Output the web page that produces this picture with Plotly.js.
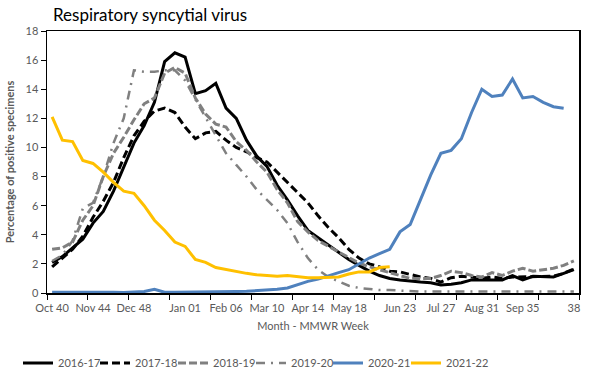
<!DOCTYPE html>
<html>
<head>
<meta charset="utf-8">
<script src="https://cdn.plot.ly/plotly-3.0.1.min.js"></script>
<style>html,body{margin:0;padding:0;background:#fff;}#chart{width:606px;height:380px;}</style>
</head>
<body>
<div id="chart"></div>
<script>
// Week index 0..51 (MMWR week 40 through week 39 of next year)
const weekIndex = Array.from({length: 52}, (_, i) => i);

const tickPositions = [0, 4, 8, 13, 17, 21, 25, 29, 34, 38, 42, 46, 51];
const tickLabels = ["Oct 40", "Nov 44", "Dec 48", "Jan 01", "Feb 06", "Mar 10", "Apr 14", "May 18", "Jun 23", "Jul 27", "Aug 31", "Sep 35", "38"];
const tickBoundaries = [-0.5, 3.5, 7.5, 11.5, 15.5, 19.5, 23.5, 27.5, 31.5, 35.5, 39.5, 43.5, 47.5, 51.5];

const s2016_17 = [2.1, 2.5, 3.1, 3.7, 4.8, 5.6, 7.0, 8.7, 10.3, 11.5, 13.1, 15.9, 16.5, 16.2, 13.7, 13.9, 14.4, 12.7, 12.0, 10.5,
  9.4, 8.7, 7.4, 6.4, 5.3, 4.3, 3.8, 3.3, 2.8, 2.3, 1.9, 1.5, 1.2, 1.0, 0.9, 0.8, 0.75, 0.7, 0.55, 0.6,
  0.7, 0.9, 0.9, 0.9, 0.9, 1.2, 0.9, 1.15, 1.1, 1.1, 1.35, 1.6];

const s2017_18 = [1.8, 2.4, 3.0, 3.9, 5.2, 6.3, 7.6, 9.3, 10.8, 11.8, 12.5, 12.7, 12.4, 11.4, 10.6, 11.0, 11.1, 10.5, 10.0, 9.7,
  9.3, 9.0, 8.3, 7.6, 6.9, 6.2, 5.3, 4.5, 3.8, 3.0, 2.4, 2.0, 1.8, 1.5, 1.45, 1.25, 1.1, 1.0, 0.75, 1.05,
  1.15, 1.1, 1.0, 1.1, 1.0, 1.1, 1.1, 1.1, 1.1, 1.15, 1.35, 1.65];

const s2018_19 = [3.0, 3.1, 3.5, 5.0, 6.0, 8.0, 9.6, 10.7, 11.9, 13.0, 13.4, 15.1, 15.5, 15.1, 13.4, 12.3, 11.6, 11.4, 10.4, 9.8,
  9.0, 8.3, 7.1, 6.2, 4.9, 4.2, 3.6, 3.2, 2.8, 2.4, 2.05, 1.8, 1.6, 1.4, 1.2, 1.0, 1.0, 1.0, 1.2, 1.5,
  1.4, 1.2, 1.1, 1.4, 1.2, 1.5, 1.7, 1.5, 1.6, 1.7, 1.9, 2.2];

const s2019_20 = [2.2, 2.6, 3.6, 5.8, 6.2, 8.0, 10.3, 12.0, 15.3, 15.2, 15.2, 15.3, 15.3, 14.6, 13.3, 12.1, 10.9, 9.6, 8.8, 8.0,
  7.1, 6.4, 5.7, 4.8, 3.5, 2.4, 1.6, 1.1, 0.8, 0.5, 0.35, 0.25, 0.2, 0.2, 0.15, 0.15, 0.1, 0.1, 0.1, 0.1,
  0.1, 0.1, 0.1, 0.1, 0.1, 0.1, 0.1, 0.1, 0.1, 0.1, 0.1, 0.1];

const s2020_21 = [0.05, 0.05, 0.05, 0.05, 0.1, 0.05, 0.05, 0.03, 0.05, 0.1, 0.25, 0.05, 0.05, 0.05, 0.05, 0.08, 0.1, 0.1, 0.1, 0.12,
  0.15, 0.2, 0.25, 0.35, 0.6, 0.8, 0.95, 1.2, 1.4, 1.6, 2.0, 2.4, 2.7, 3.0, 4.2, 4.7, 6.4, 8.1, 9.6, 9.8,
  10.6, 12.4, 14.0, 13.5, 13.6, 14.7, 13.4, 13.5, 13.1, 12.8, 12.7];

const s2021_22 = [12.1, 10.5, 10.4, 9.1, 8.9, 8.3, 7.6, 7.0, 6.85, 6.0, 5.0, 4.3, 3.5, 3.2, 2.3, 2.1, 1.75, 1.6, 1.45, 1.35,
  1.25, 1.2, 1.15, 1.2, 1.1, 1.05, 1.05, 1.05, 1.1, 1.3, 1.45, 1.45, 1.75, 1.8];

const seriesNames = ["2016-17", "2017-18", "2018-19", "2019-20", "2020-21", "2021-22"];
const seriesData = [s2016_17, s2017_18, s2018_19, s2019_20, s2020_21, s2021_22];
const seriesStyle = [
  {color: "#000000", width: 3, dash: "solid"},
  {color: "#000000", width: 3, dash: "8px,4px"},
  {color: "#808080", width: 3, dash: "8px,3px"},
  {color: "#808080", width: 2.5, dash: "9px,6px,2px,6px"},
  {color: "#4f81bd", width: 3, dash: "solid"},
  {color: "#ffc000", width: 3, dash: "solid"}
];
const legendIds = ["legend", "legend2", "legend3", "legend4", "legend5", "legend6"];
const legendLeft = [18, 95, 173, 251, 328, 406];

const traces = seriesData.map((vals, k) => ({
  type: "scatter",
  mode: "lines",
  name: seriesNames[k],
  legend: legendIds[k],
  x: weekIndex.slice(0, vals.length),
  y: vals,
  line: {color: seriesStyle[k].color, width: seriesStyle[k].width, dash: seriesStyle[k].dash},
  hoverinfo: "skip"
}));

const FONT = "Lato, 'Open Sans', sans-serif";
const GREY = "#595959";

const layout = {
  width: 606,
  height: 380,
  margin: {l: 47, r: 27, t: 31, b: 87},
  paper_bgcolor: "#ffffff",
  plot_bgcolor: "#ffffff",
  font: {family: FONT, size: 11, color: GREY},
  showlegend: true,
  title: {
    text: "Respiratory syncytial virus",
    font: {family: FONT, size: 17, color: "#000000"},
    xref: "container", yref: "container",
    x: 53 / 606, xanchor: "left",
    y: 1 - 15 / 380, yanchor: "middle"
  },
  xaxis: {
    range: [-0.5, 51.5],
    tickmode: "array",
    tickvals: tickPositions,
    ticktext: tickLabels,
    ticks: "outside",
    ticklen: 4,
    tickcolor: "rgba(0,0,0,0)",
    tickfont: {family: FONT, size: 11, color: GREY},
    minor: {tickmode: "array", tickvals: tickBoundaries, ticks: "outside", ticklen: 5, tickcolor: "#000000", tickwidth: 1, showgrid: false},
    showgrid: false,
    zeroline: false,
    showline: true,
    linecolor: "#000000",
    linewidth: 1.5,
    mirror: true,
    title: {text: "Month - MMWR Week", font: {family: FONT, size: 11, color: GREY}, standoff: 9},
    fixedrange: true
  },
  yaxis: {
    range: [0, 18],
    tickmode: "linear",
    tick0: 0,
    dtick: 2,
    ticks: "outside",
    ticklen: 5,
    tickcolor: "#000000",
    tickfont: {family: FONT, size: 11, color: GREY},
    showgrid: false,
    zeroline: false,
    showline: true,
    linecolor: "#000000",
    linewidth: 1.5,
    mirror: true,
    title: {text: "<b>Percentage of positive specimens</b>", font: {family: FONT, size: 11, color: GREY}, standoff: 8},
    fixedrange: true
  },
  hovermode: false
};

legendIds.forEach((id, k) => {
  layout[id] = {
    orientation: "h",
    xref: "container", yref: "container",
    x: legendLeft[k] / 606, xanchor: "left",
    y: 1 - 363 / 380, yanchor: "middle",
    font: {family: FONT, size: 11, color: GREY},
    itemwidth: 30,
    bgcolor: "rgba(0,0,0,0)"
  };
});

Plotly.newPlot("chart", traces, layout, {displayModeBar: false, staticPlot: true});
</script>
</body>
</html>
